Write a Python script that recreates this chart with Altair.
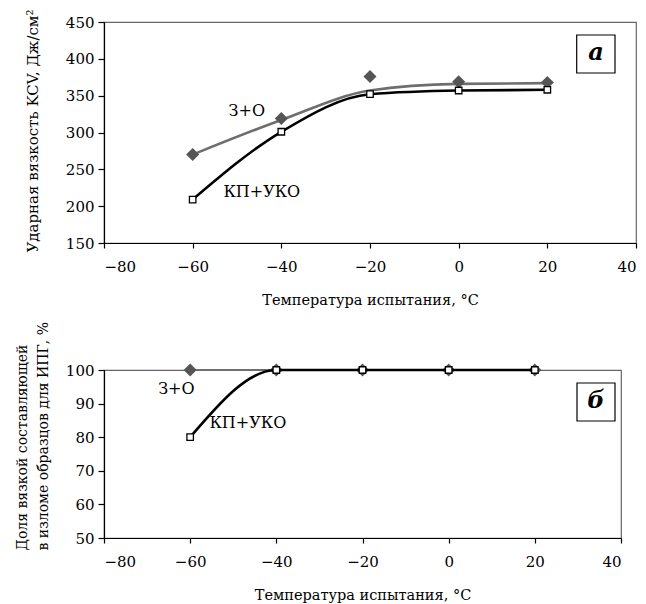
import altair as alt
import pandas as pd

FONT = "DejaVu Serif"

# ---- data ----
temps = [-60, -40, -20, 0, 20]
# panel а: impact toughness KCV
kcv_zo_points = [270, 319, 376, 369, 368]
kcv_zo_curve = [270, 317, 357, 366, 367]
kcv_kp_points = [209, 301, 352, 357, 358]
# panel б: ductile share in fracture
share_zo = [100, 100, 100, 100, 100]
share_kp = [80, 100, 100, 100, 100]

x_ticks = [-80, -60, -40, -20, 0, 20, 40]
top_y_ticks = [150, 200, 250, 300, 350, 400, 450]
bot_y_ticks = [50, 60, 70, 80, 90, 100]

top_label_text = ["З+О", "КП+УКО"]
top_label_x = [-47.8, -44.4]
top_label_y = [329.6, 219.6]
bot_label_text = ["З+О", "КП+УКО"]
bot_label_x = [-63.2, -46.6]
bot_label_y = [94.3, 84.1]

GRAY_LINE = "#6e6e6e"
DIAMOND = "#555555"

x_title = "Температура испытания, °C"

X_SCALE = alt.Scale(domain=[-80, 40], zero=False, nice=False)
X_AXIS = alt.Axis(values=x_ticks, title=x_title, grid=False, labelOverlap=False,
                  tickSize=5, labelPadding=11, titlePadding=19, titleFontSize=14.5)

# ---- top panel ----
top_pts = pd.DataFrame({"t": temps, "zo": kcv_zo_points, "zoc": kcv_zo_curve, "kp": kcv_kp_points})
top_lab = pd.DataFrame({"t": top_label_x, "v": top_label_y, "s": top_label_text})

ytop_scale = alt.Scale(domain=[150, 450], zero=False, nice=False)
ytop_axis = alt.Axis(values=top_y_ticks, grid=False, tickSize=6, labelPadding=4, labelOverlap=False,
                     title="Ударная вязкость KCV, Дж/см²",
                     titleAngle=270, titleAlign="center", titleBaseline="middle",
                     titleX=-72, titleY=108.5)


def tx():
    return alt.X("t:Q", scale=X_SCALE, axis=X_AXIS)


def ty(field):
    return alt.Y(field, type="quantitative", scale=ytop_scale, axis=ytop_axis)


tb = alt.Chart(top_pts)
top_layers = alt.layer(
    tb.mark_line(color=GRAY_LINE, strokeWidth=2.6, interpolate="monotone").encode(
        x=tx(), y=ty("zoc")),
    tb.mark_line(color="black", strokeWidth=2.6, interpolate="monotone").encode(
        x=tx(), y=ty("kp")),
    tb.mark_point(shape="diamond", filled=True, size=170, color=DIAMOND, opacity=1).encode(
        x=tx(), y=ty("zo")),
    tb.mark_point(shape="square", filled=True, size=42, fill="white", stroke="black",
                  strokeWidth=1.3, opacity=1).encode(x=tx(), y=ty("kp")),
    alt.Chart(top_lab).mark_text(font=FONT, fontSize=16, color="black").encode(
        x=tx(), y=ty("v"), text="s:N"),
    alt.Chart(pd.DataFrame({"s": ["а"]})).mark_rect(fill="white", stroke="black", strokeWidth=1.2).encode(
        x=alt.value(472.7), x2=alt.value(511), y=alt.value(13), y2=alt.value(51)),
    alt.Chart(pd.DataFrame({"s": ["а"]})).mark_text(font=FONT, fontSize=24, fontWeight="bold",
                                                    fontStyle="italic", color="black").encode(
        x=alt.value(492), y=alt.value(31), text="s:N"),
).properties(width=532, height=221)

# ---- bottom panel ----
bot_pts = pd.DataFrame({"t": temps, "zo": share_zo, "kp": share_kp})
bot_lab = pd.DataFrame({"t": bot_label_x, "v": bot_label_y, "s": bot_label_text})

ybot_scale = alt.Scale(domain=[50, 100], zero=False, nice=False)
ybot_axis = alt.Axis(values=bot_y_ticks, grid=False, tickSize=6, labelPadding=4, labelOverlap=False,
                     title=["Доля вязкой составляющей", "в изломе образцов для ИПГ, %"],
                     titleFontSize=14,
                     titleAngle=270, titleAlign="left", titleBaseline="middle",
                     titleLineHeight=21, titleX=-82, titleY=180)


def by(field):
    return alt.Y(field, type="quantitative", scale=ybot_scale, axis=ybot_axis)


bb = alt.Chart(bot_pts)
bot_layers = alt.layer(
    bb.mark_line(color=GRAY_LINE, strokeWidth=2.0).encode(
        x=tx(), y=by("zo")),
    bb.mark_point(shape="diamond", filled=True, size=170, color=DIAMOND, opacity=1).encode(
        x=tx(), y=by("zo")),
    bb.mark_line(color="black", strokeWidth=2.6, interpolate="monotone").encode(
        x=tx(), y=by("kp")),
    bb.mark_point(shape="square", filled=True, size=42, fill="white", stroke="black",
                  strokeWidth=1.3, opacity=1).encode(x=tx(), y=by("kp")),
    alt.Chart(bot_lab).mark_text(font=FONT, fontSize=16, color="black").encode(
        x=tx(), y=by("v"), text="s:N"),
    alt.Chart(pd.DataFrame({"s": ["б"]})).mark_rect(fill="white", stroke="black", strokeWidth=1.2).encode(
        x=alt.value(473), x2=alt.value(511), y=alt.value(13), y2=alt.value(51)),
    alt.Chart(pd.DataFrame({"s": ["б"]})).mark_text(font=FONT, fontSize=24, fontWeight="bold",
                                                    fontStyle="italic", color="black").encode(
        x=alt.value(492), y=alt.value(31), text="s:N"),
).properties(width=517, height=168)

chart = alt.vconcat(top_layers, bot_layers, spacing=12).properties(
    padding={"left": 14, "top": 8, "right": 0, "bottom": 0},
    background="white",
).configure_view(stroke="#666666", strokeWidth=1.2).configure_axis(
    domainColor="black", tickColor="black", domainWidth=1.2, tickWidth=1.2,
    labelFont=FONT, labelFontSize=15, labelColor="black", labelOverlap=False,
    titleFont=FONT, titleFontSize=15, titleFontWeight="normal", titleColor="black"
)

chart.save("out.html", embed_options={"renderer": "svg", "actions": False})
